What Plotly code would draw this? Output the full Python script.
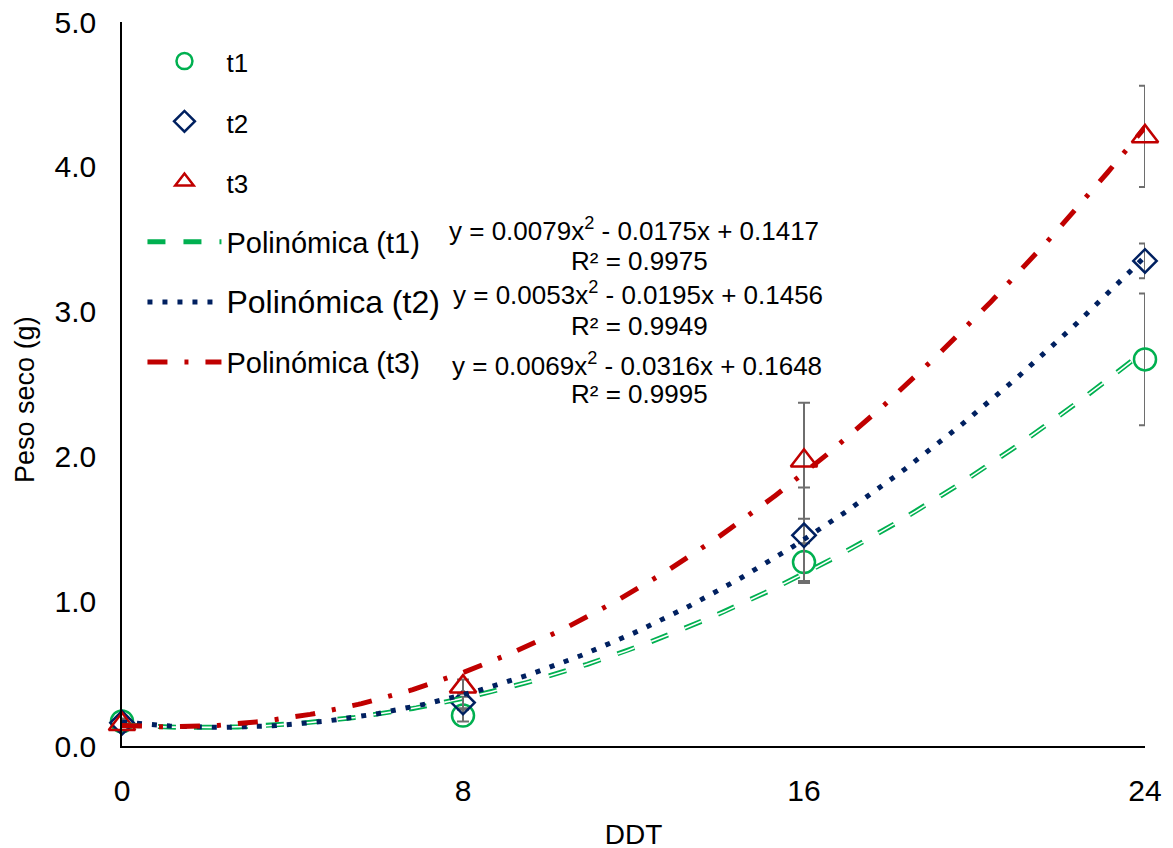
import numpy as np
import plotly.graph_objects as go

# ---- data ----
ddt = [0, 8, 16, 24]
t1 = [0.17, 0.21, 1.27, 2.67]
t1_err = [0.02, 0.04, 0.13, 0.455]
t2 = [0.16, 0.30, 1.455, 3.35]
t2_err = [0.02, 0.04, 0.33, 0.12]
t3 = [0.15, 0.41, 1.97, 4.21]
t3_err = [0.02, 0.05, 0.40, 0.35]

# trendline coefficients (a, b, c) of y = a x^2 + b x + c, as shown in the chart
coef_poly_t1 = [0.0053, -0.0195, 0.1456]
coef_poly_t2 = [0.0069, -0.0316, 0.1648]
coef_poly_t3 = [0.0079, -0.0175, 0.1417]

eq_labels = [
    "y = 0.0079x<sup>2</sup> - 0.0175x + 0.1417", "R² = 0.9975",
    "y = 0.0053x<sup>2</sup> - 0.0195x + 0.1456", "R² = 0.9949",
    "y = 0.0069x<sup>2</sup> - 0.0316x + 0.1648", "R² = 0.9995",
]
y_ticks = [0, 1, 2, 3, 4, 5]

GREEN = "#00B050"
NAVY = "#002060"
RED = "#C00000"
ERR = "#6E6E6E"
FONT = "Liberation Sans, Arial, sans-serif"

xs = np.linspace(ddt[0], ddt[-1], 300)
def poly(c):
    return np.polyval(c, xs)

fig = go.Figure()

def err(arr):
    return dict(type="data", array=arr, visible=True, color=ERR, thickness=2, width=6)

fig.add_trace(go.Scatter(x=ddt, y=t1, mode="markers", name="<span style='font-size:26px'>t1</span>",
                         legendgroup="a", cliponaxis=False, error_y=err(t1_err),
                         marker=dict(symbol="circle-open", size=22, color=GREEN, line=dict(width=2.5, color=GREEN))))
fig.add_trace(go.Scatter(x=ddt, y=t2, mode="markers", name="<span style='font-size:26px'>t2</span>",
                         legendgroup="b", cliponaxis=False, error_y=err(t2_err),
                         marker=dict(symbol="diamond-open", size=18, color=NAVY, line=dict(width=2.5, color=NAVY))))
fig.add_trace(go.Scatter(x=ddt, y=t3, mode="markers", name="<span style='font-size:26px'>t3</span>",
                         legendgroup="c", cliponaxis=False, error_y=err(t3_err),
                         marker=dict(symbol="triangle-up-open", size=23, color=RED, line=dict(width=2.5, color=RED))))

# trendlines
fig.add_trace(go.Scatter(x=xs, y=poly(coef_poly_t1), mode="lines", name="Polinómica (t1)",
                         legendgroup="d", line=dict(color=GREEN, width=5, dash="18px,18px")))
fig.add_trace(go.Scatter(x=xs, y=poly(coef_poly_t1), mode="lines", showlegend=False,
                         legendgroup="d", hoverinfo="skip", line=dict(color="white", width=1.6, dash="18px,18px")))
fig.add_trace(go.Scatter(x=xs, y=poly(coef_poly_t2), mode="lines",
                         name="<span style='font-size:32px'>Polinómica (t2)</span>",
                         legendgroup="e", line=dict(color=NAVY, width=5, dash="5px,10px")))
fig.add_trace(go.Scatter(x=xs, y=poly(coef_poly_t3), mode="lines", name="Polinómica (t3)",
                         legendgroup="f", line=dict(color=RED, width=5, dash="20px,17px,4px,17px")))

# equation labels
eq_pos = [(0.5005, 0.7128), (0.5054, 0.6700), (0.5044, 0.6244),
          (0.5054, 0.5802), (0.5034, 0.5275), (0.5054, 0.4863)]
for txt, (px, py) in zip(eq_labels, eq_pos):
    fig.add_annotation(x=px, y=py, xref="paper", yref="paper", text=txt, showarrow=False,
                       xanchor="center", yanchor="middle", font=dict(size=26, color="black", family=FONT))

# y-axis title (placed as in the reference, slightly below the axis centre)
fig.add_annotation(x=-0.0948, y=0.478, xref="paper", yref="paper", text="Peso seco (g)", showarrow=False,
                   textangle=-90, xanchor="center", yanchor="middle", font=dict(size=27, color="black", family=FONT))

fig.update_layout(
    width=1173, height=848,
    margin=dict(l=114, r=36, t=14, b=110, autoexpand=False),
    paper_bgcolor="white", plot_bgcolor="white",
    font=dict(family=FONT, color="black", size=29),
    showlegend=True,
    legend=dict(x=0.02, y=0.981, xanchor="left", yanchor="top", bgcolor="rgba(0,0,0,0)",
                font=dict(size=29, family=FONT, color="black"), itemwidth=74,
                tracegroupgap=19.5, traceorder="grouped"),
    xaxis=dict(range=[0, 24], tickvals=ddt, ticktext=[str(v) for v in ddt], showgrid=False, zeroline=False,
               showline=True, linecolor="black", linewidth=1.5, ticks="", ticklabelstandoff=17,
               ticklabeloverflow="allow", automargin=False,
               tickfont=dict(size=30), title=dict(text="DDT", font=dict(size=28), standoff=19)),
    yaxis=dict(range=[0, 5], tickvals=y_ticks, tickformat=".1f", showgrid=False, zeroline=False,
               showline=True, linecolor="black", linewidth=1.5, ticks="", ticklabelstandoff=18,
               ticklabeloverflow="allow", automargin=False, tickfont=dict(size=30)),
)

fig.write_html("out.html")
